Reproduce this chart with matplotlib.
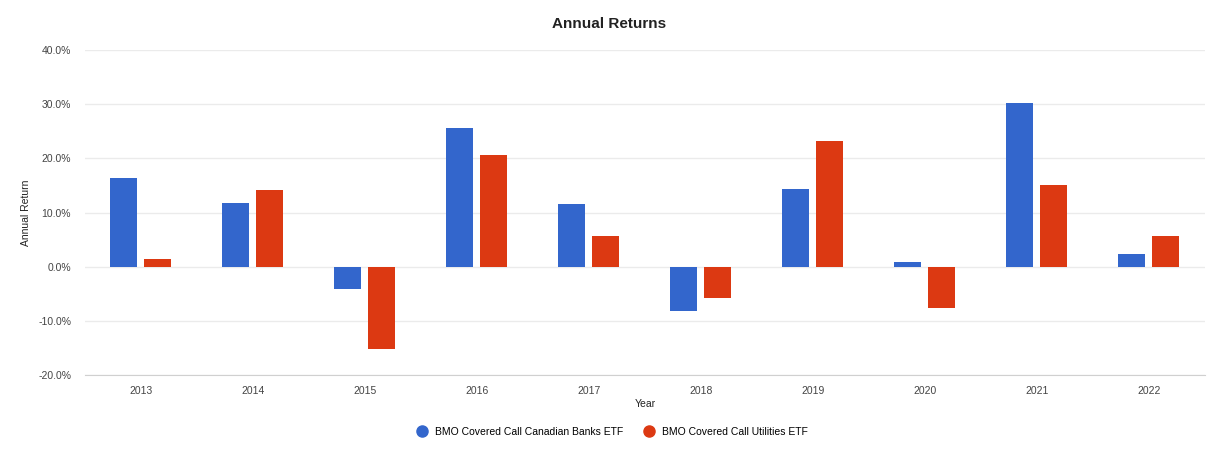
import matplotlib
matplotlib.use('Agg')
import matplotlib.pyplot as plt
import numpy as np
from matplotlib.ticker import FuncFormatter
from matplotlib.lines import Line2D

years = ['2013', '2014', '2015', '2016', '2017', '2018', '2019', '2020', '2021', '2022']
banks = [16.3, 11.7, -4.1, 25.7, 11.5, -8.1, 14.4, 0.9, 30.2, 2.4]
utilities = [1.5, 14.1, -15.2, 20.6, 5.6, -5.7, 23.3, -7.6, 15.0, 5.7]
series_names = ['BMO Covered Call Canadian Banks ETF', 'BMO Covered Call Utilities ETF']
colors = ['#3366cc', '#dc3912']

plt.rcParams['font.family'] = ['Liberation Sans', 'DejaVu Sans']

fig = plt.figure(figsize=(12.32, 4.51), dpi=100)
ax = fig.add_axes([0.069, 0.1685, 0.909, 0.7205])

x = np.arange(len(years))
w = 0.24
ax.bar(x - 0.155, banks, w, color=colors[0], zorder=3)
ax.bar(x + 0.145, utilities, w, color=colors[1], zorder=3)

ax.set_xlim(-0.5, len(years) - 0.5)
ax.set_ylim(-20, 40)
ax.set_yticks(np.arange(-20, 41, 10))
ax.yaxis.set_major_formatter(FuncFormatter(lambda v, p: '{:.1f}%'.format(v)))
ax.set_xticks(x)
ax.set_xticklabels(years)
ax.grid(axis='y', color='#ebebeb', linewidth=1, zorder=0)
for s in ['top', 'right', 'left']:
    ax.spines[s].set_visible(False)
ax.spines['bottom'].set_color('#d0d0d0')
ax.tick_params(axis='both', length=0, labelsize=7.5, colors='#444444', pad=8)
ax.tick_params(axis='y', pad=10)

ax.set_xlabel('Year', fontsize=7.5, color='#222222', labelpad=2)
ax.set_ylabel('Annual Return', fontsize=7.5, color='#222222', labelpad=5)
fig.text(0.494, 0.947, 'Annual Returns', ha='center', va='center', fontsize=11, fontweight='bold', color='#222222')

handles = [Line2D([], [], marker='o', linestyle='', markersize=8, color=c) for c in colors]
fig.legend(handles, series_names, loc='center', bbox_to_anchor=(0.495, 0.042), ncol=2, frameon=False,
           fontsize=7.5, handletextpad=0.3, columnspacing=1.4)

fig.savefig('out.png', dpi=100)
